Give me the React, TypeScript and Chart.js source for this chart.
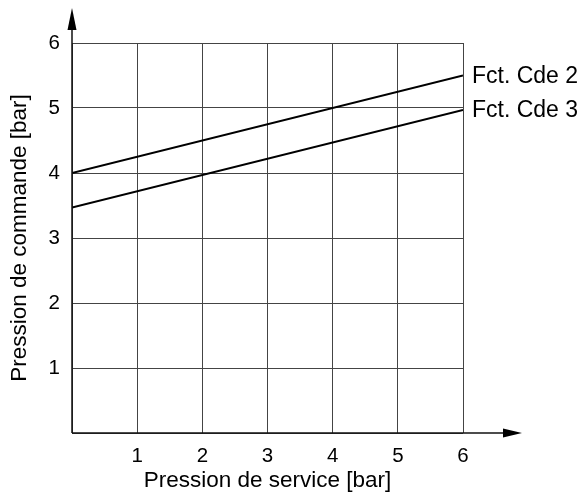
import React, { useEffect, useRef } from 'react';
import { Chart, registerables } from 'chart.js';

Chart.register(...registerables);

const xValues = [0, 6];
const cde2Values = [4, 5.5];
const cde3Values = [3.47, 4.97];
const seriesLabels = ['Fct. Cde 2', 'Fct. Cde 3'];
const axisMin = 0;
const axisMax = 6;
const xTitle = 'Pression de service [bar]';
const yTitle = 'Pression de commande [bar]';

const FONT = "'Liberation Sans', Arial, Helvetica, sans-serif";

const decorPlugin = {
  id: 'decor',
  afterDraw(chart: any) {
    const ctx = chart.ctx;
    const { left, right, top, bottom } = chart.chartArea;
    ctx.save();
    ctx.strokeStyle = '#111';
    ctx.fillStyle = '#000';
    ctx.lineWidth = 1.5;
    // y axis with arrow
    ctx.beginPath();
    ctx.moveTo(left, bottom);
    ctx.lineTo(left, top - 20);
    ctx.stroke();
    ctx.beginPath();
    ctx.moveTo(left, top - 35);
    ctx.lineTo(left - 4.5, top - 13);
    ctx.lineTo(left + 4.5, top - 13);
    ctx.closePath();
    ctx.fill();
    // x axis with arrow
    ctx.beginPath();
    ctx.moveTo(left, bottom);
    ctx.lineTo(right + 45, bottom);
    ctx.stroke();
    ctx.beginPath();
    ctx.moveTo(right + 59, bottom);
    ctx.lineTo(right + 40, bottom - 4.5);
    ctx.lineTo(right + 40, bottom + 4.5);
    ctx.closePath();
    ctx.fill();
    // end labels
    ctx.font = `23px ${FONT}`;
    ctx.textBaseline = 'middle';
    ctx.textAlign = 'left';
    chart.data.datasets.forEach((ds: any, i: number) => {
      const meta = chart.getDatasetMeta(i);
      const pt = meta.data[meta.data.length - 1];
      ctx.fillText(ds.label, pt.x + 9, pt.y + 1);
    });
    ctx.restore();
  },
};

export default function App() {
  const canvasRef = useRef<HTMLCanvasElement | null>(null);

  useEffect(() => {
    if (!canvasRef.current) return;
    Chart.defaults.font.family = FONT;
    Chart.defaults.color = '#000';
    const toPoints = (ys: number[]) => xValues.map((x, i) => ({ x, y: ys[i] }));
    const chart = new Chart(canvasRef.current, {
      type: 'line',
      data: {
        datasets: [
          {
            label: seriesLabels[0],
            data: toPoints(cde2Values),
            borderColor: '#000',
            borderWidth: 2,
            pointRadius: 0,
            fill: false,
            tension: 0,
          },
          {
            label: seriesLabels[1],
            data: toPoints(cde3Values),
            borderColor: '#000',
            borderWidth: 2,
            pointRadius: 0,
            fill: false,
            tension: 0,
          },
        ],
      },
      options: {
        animation: false,
        responsive: true,
        maintainAspectRatio: false,
        layout: { padding: { left: 0, top: 43, right: 123, bottom: 0 } },
        plugins: { legend: { display: false }, tooltip: { enabled: false } },
        scales: {
          x: {
            type: 'linear',
            min: axisMin,
            max: axisMax,
            afterFit: (s: any) => { s.height = 61; },
            border: { display: false },
            grid: { color: '#444', lineWidth: 1, drawTicks: false },
            ticks: {
              stepSize: 1,
              padding: 11,
              font: { size: 20.5 },
              color: '#000',
              callback: (v: any) => (v === 0 ? '' : String(v)),
            },
            title: {
              display: true,
              text: xTitle,
              font: { size: 22.5 },
              color: '#000',
              padding: { top: 0, bottom: 0 },
            },
          },
          y: {
            type: 'linear',
            min: axisMin,
            max: axisMax,
            afterFit: (s: any) => { s.width = 72; },
            border: { display: false },
            grid: { color: '#444', lineWidth: 1, drawTicks: false },
            ticks: {
              stepSize: 1,
              padding: 12,
              font: { size: 20.5 },
              color: '#000',
              callback: (v: any) => (v === 0 ? '' : String(v)),
            },
            title: {
              display: true,
              text: yTitle,
              font: { size: 22.5 },
              color: '#000',
              padding: { top: 6, bottom: 0 },
            },
          },
        },
      },
      plugins: [decorPlugin],
    });
    return () => chart.destroy();
  }, []);

  return (
    <div style={{ position: 'fixed', left: 0, top: 0, width: 586, height: 494, background: '#fff' }}>
      <canvas ref={canvasRef} />
    </div>
  );
}
